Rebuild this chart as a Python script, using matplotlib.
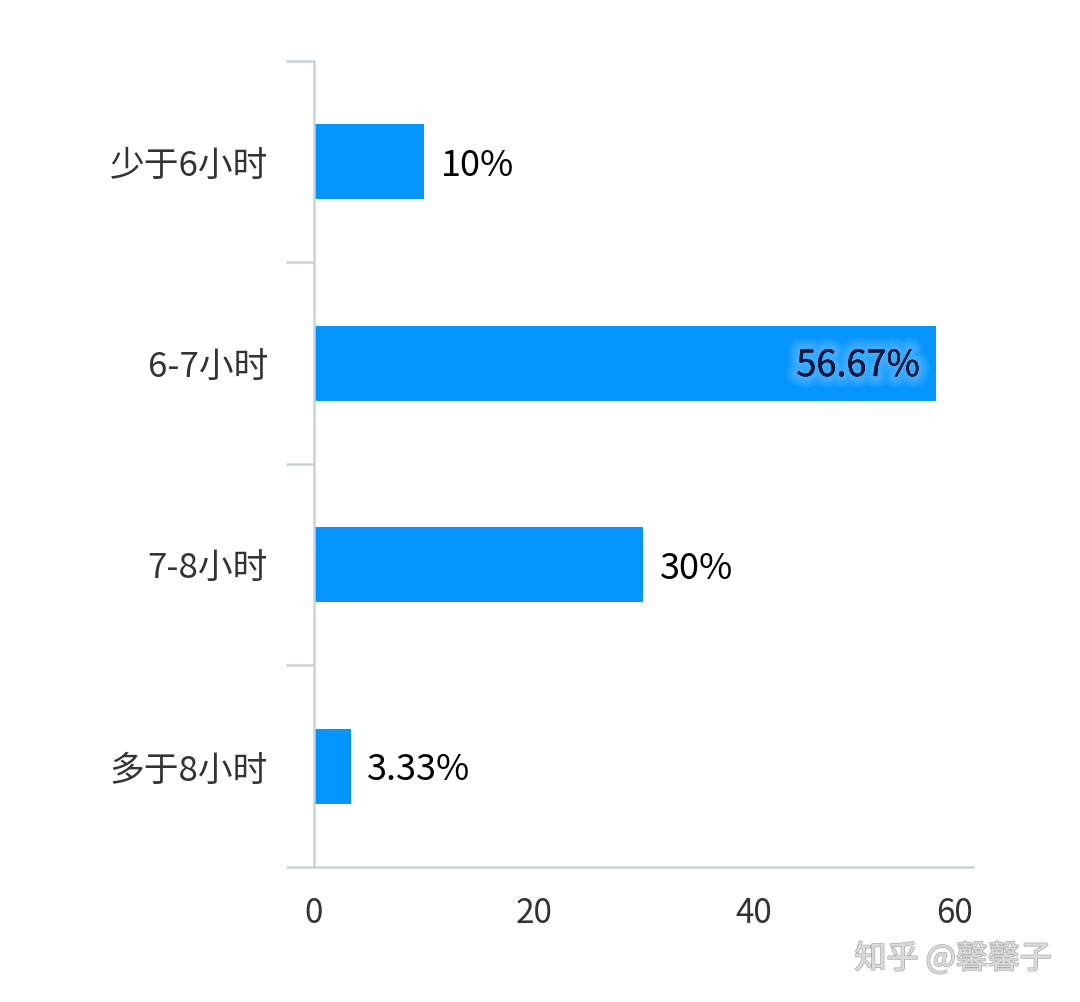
"""
Sleep duration distribution - horizontal bar chart
"""
import matplotlib
matplotlib.use('Agg')
import matplotlib.pyplot as plt
import matplotlib.patheffects as pe
import numpy as np

# Data
categories = ['少于6小时', '6-7小时', '7-8小时', '多于8小时']
values = [10, 56.67, 30, 3.33]
value_labels = ['10%', '56.67%', '30%', '3.33%']
x_ticks = [0, 20, 40, 60]

plt.rcParams['font.family'] = ['Noto Sans CJK SC', 'DejaVu Sans']

bar_color = '#0595FD'
axis_color = '#C9D2DA'

fig = plt.figure(figsize=(10.8, 10.03), dpi=100)
ax = fig.add_axes([0.2907, 0.1346, 0.6102, 0.8036])

y = np.arange(len(categories))
ax.barh(y, values, height=0.37, color=bar_color)

ax.set_xlim(0, 60)
ax.set_ylim(len(categories) - 0.5, -0.5)

# Spines
for side in ['top', 'right']:
    ax.spines[side].set_visible(False)
for side in ['left', 'bottom']:
    ax.spines[side].set_color(axis_color)
    ax.spines[side].set_linewidth(1.8)

# Y axis: boundary ticks as marks, category names as minor labels
ax.set_yticks(np.arange(len(categories) + 1) - 0.5)
ax.set_yticklabels([])
ax.tick_params(axis='y', which='major', length=20, width=1.8, color=axis_color)
ax.set_yticks(y, minor=True)
ax.set_yticklabels(categories, minor=True, va='center_baseline')
ax.tick_params(axis='y', which='minor', length=0, pad=33, labelsize=25, labelcolor='#333333')

# X axis
ax.set_xticks(x_ticks)
ax.set_xticklabels([str(t) for t in x_ticks])
ax.tick_params(axis='x', length=0, pad=20, labelsize=24, labelcolor='#333333')
ax.get_xticklabels()[-1].set_horizontalalignment('right')

# Value labels
glow = [pe.withStroke(linewidth=w, foreground='#6cc0ff', alpha=0.18) for w in (16, 12, 8, 5)]
glow.append(pe.Normal())
for i, (v, lab) in enumerate(zip(values, value_labels)):
    if v > 50:
        ax.annotate(lab, (v, i), xytext=(-12, -2), textcoords='offset points',
                    ha='right', va='center', fontsize=26, color='#14173a',
                    path_effects=glow)
    else:
        ax.annotate(lab, (v, i), xytext=(12, -2), textcoords='offset points',
                    ha='left', va='center', fontsize=26, color='black')

# Watermark
fig.text(0.974, 0.043, '知乎 @馨馨子', ha='right', va='center', fontsize=23,
         color='#DADADA',
         path_effects=[pe.withStroke(linewidth=1.2, foreground='#AAAAAA'), pe.Normal()])

plt.savefig('out.png', dpi=100)
